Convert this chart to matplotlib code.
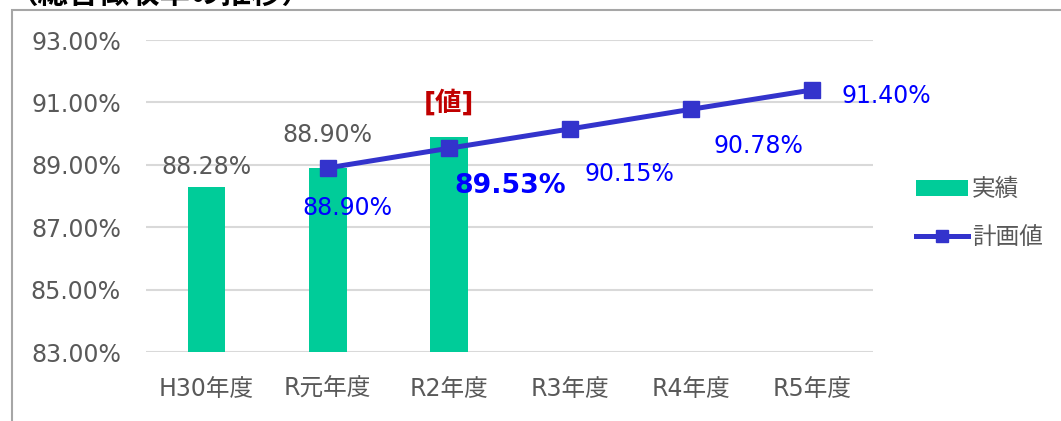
import matplotlib
matplotlib.use("Agg")
import matplotlib.pyplot as plt
from matplotlib.patches import Rectangle, Patch
from matplotlib.lines import Line2D
import numpy as np

plt.rcParams['font.family'] = ['DejaVu Sans', 'Noto Sans CJK JP']

# --- data ---
years = ['H30年度', 'R元年度', 'R2年度', 'R3年度', 'R4年度', 'R5年度']
actual = [88.28, 88.90, 89.88]          # 実績 (bars)
plan_idx = [1, 2, 3, 4, 5]
plan = [88.90, 89.53, 90.15, 90.78, 91.40]  # 計画値 (line)
bar_labels = ['88.28%', '88.90%', '[値]']
yticks = [83, 85, 87, 89, 91, 93]

GREEN = '#00CC99'
LINE = '#3333CC'
BLUE = '#0000FF'
GRAY = '#595959'
FS = 17

fig = plt.figure(figsize=(10.61, 4.21), dpi=100)
ax = fig.add_axes([146 / 1061, 1 - 352 / 421, 727 / 1061, 312 / 421])

# outer chart frame (cut by the image edge)
fig.patches.append(Rectangle((12 / 1061, -0.2), 1.2, 1 - 10 / 421 + 0.2,
                             transform=fig.transFigure, fill=False,
                             edgecolor='#A6A6A6', linewidth=1.5))
# title, mostly cut off at the top (as in the source image)
fig.text(8 / 1061, 1 - 3 / 421, '（総合徴収率の推移）', fontsize=22,
         fontweight='bold', color='black', va='baseline', ha='left',
         family=['Noto Sans CJK JP'])

x = np.arange(len(years))
ax.bar(x[:len(actual)], actual, width=0.31, color=GREEN, zorder=2)
ax.plot(plan_idx, plan, color=LINE, linewidth=3.6, marker='s',
        markersize=11.5, zorder=3)

ax.set_ylim(83, 93)
ax.set_xlim(-0.5, len(years) - 0.5)
ax.set_yticks(yticks)
ax.set_yticklabels([f'{v:.2f}%' for v in yticks])
ax.set_xticks(x)
ax.set_xticklabels(years)
ax.tick_params(length=0, labelsize=FS, labelcolor=GRAY)
ax.tick_params(axis='y', pad=18)
ax.tick_params(axis='x', pad=18)
ax.grid(axis='y', color='#D9D9D9', linewidth=1.5, zorder=0)
ax.set_axisbelow(True)
for s in ax.spines.values():
    s.set_visible(False)

# bar labels
bar_offsets = [20, 33, 34]
for i, (v, lab, off) in enumerate(zip(actual, bar_labels, bar_offsets)):
    if lab.startswith('['):
        ax.annotate(lab, (i, v), xytext=(0, off), textcoords='offset pixels',
                    ha='center', va='center', fontsize=19, fontweight='bold',
                    color='#C00000')
    else:
        ax.annotate(lab, (i, v), xytext=(0, off), textcoords='offset pixels',
                    ha='center', va='center', fontsize=FS, color=GRAY)

# plan labels
plan_offsets = [(20, -40), (61, -38), (59, -45), (67, -37), (74, -6)]
for i, v, (dx, dy) in zip(plan_idx, plan, plan_offsets):
    bold = (i == 2)
    ax.annotate(f'{v:.2f}%', (i, v), xytext=(dx, dy), textcoords='offset pixels',
                ha='center', va='center', color=BLUE,
                fontsize=19.3 if bold else FS,
                fontweight='bold' if bold else 'normal')

handles = [Patch(facecolor=GREEN, edgecolor='none'),
           Line2D([0], [0], color=LINE, linewidth=3.6, marker='s', markersize=9)]
fig.legend(handles, ['実績', '計画値'], loc='center left',
           bbox_to_anchor=(895 / 1061, 1 - 213 / 421), frameon=False,
           fontsize=FS, labelcolor=GRAY, handlelength=2.2,
           handletextpad=0.15, labelspacing=1.0, handleheight=0.7)

fig.savefig('out.png', dpi=100)
